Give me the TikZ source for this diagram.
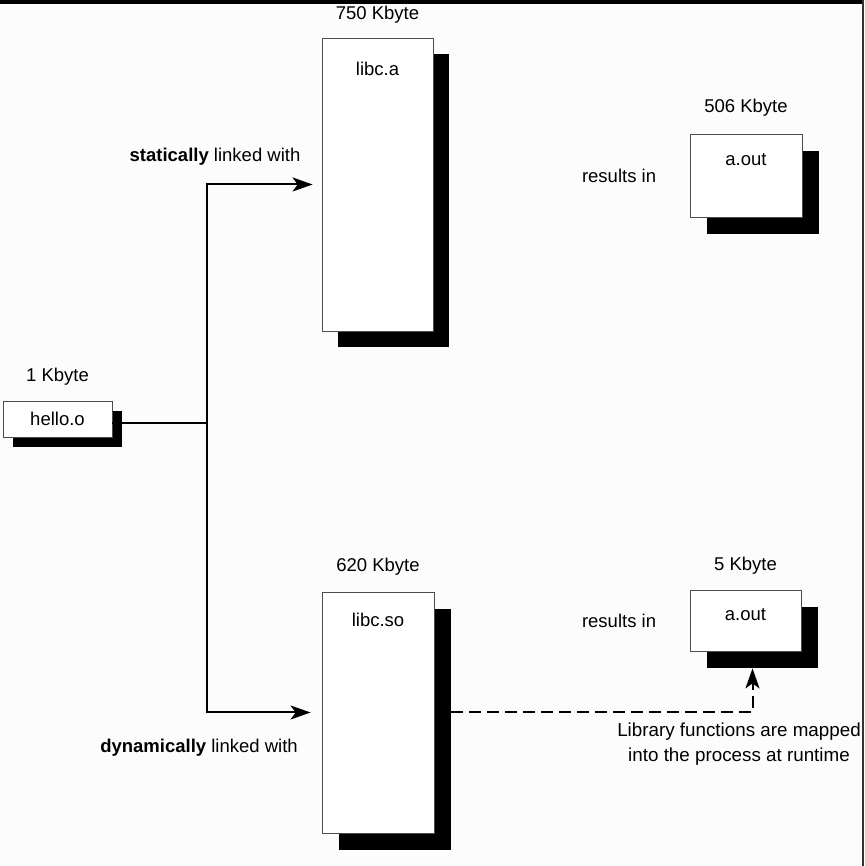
\documentclass[tikz,border=0pt]{standalone}
\usepackage{fontspec}
\setmainfont{Liberation Sans}
\usetikzlibrary{positioning,shadows,arrows.meta}
\tikzset{
  filebox/.style={draw=black!70,fill=white,line width=0.8pt,inner sep=0pt},
  blackshadow/.style={drop shadow={shadow xshift=#1,shadow yshift=-#1,opacity=1,fill=black}},
  blackshadow/.default=17pt,
  link/.style={line width=2pt,-{Stealth[length=20pt,width=14pt,inset=5pt]}}
}
\begin{document}
\begin{tikzpicture}[x=1pt,y=1pt,font=\fontsize{18.5}{25}\selectfont]
\fill[black!1] (0,0) rectangle (864,866);
\useasboundingbox (0,0) rectangle (864,866);
\fill[black] (0,862) rectangle (864,866);
\fill[black!80] (862,0) rectangle (864,866);
\node[filebox,blackshadow=10pt,minimum width=109pt,minimum height=36pt] (hello) at (57.5,447) {hello.o};
\node[above=12pt of hello] (hellosize) {1 Kbyte};
\node[filebox,blackshadow=16pt,minimum width=111pt,minimum height=293pt] (libca) at (377.5,681.5) {};
\node (libcaname) at ([yshift=-31pt]libca.north) {libc.a};
\node[above=11pt of libca] (libcasize) {750 Kbyte};
\node[filebox,blackshadow,minimum width=112pt,minimum height=83pt] (aoutst) at (746,690.5) {};
\node (aoutstname) at ([yshift=-26pt]aoutst.north) {a.out};
\node[above=14pt of aoutst] (aoutstsize) {506 Kbyte};
\node[left=30pt of aoutst] (resst) {results in};
\node[filebox,blackshadow,minimum width=112pt,minimum height=241pt] (libcso) at (378,153.5) {};
\node (libcsoname) at ([yshift=-28pt]libcso.north) {libc.so};
\node[above=13pt of libcso] (libcsosize) {620 Kbyte};
\node[filebox,blackshadow,minimum width=111pt,minimum height=61pt] (aoutdyn) at (745.5,245.5) {};
\node (aoutdynname) at ([yshift=-25pt]aoutdyn.north) {a.out};
\node[above=12pt of aoutdyn] (aoutdynsize) {5 Kbyte};
\node[left=30pt of aoutdyn] (resdyn) {results in};
\coordinate (split) at (207,443);
\draw[line width=2pt] (hello.east |- split) -- (split);
\draw[link] (split) |- ([xshift=-9pt]libca.west);
\draw[link] (split) |- ([xshift=-11pt]libcso.west);
\node (static) at (215,709) {\textbf{statically} linked with};
\node (dynamic) at (199,118) {\textbf{dynamically} linked with};
\draw[link,dashed,dash pattern=on 12pt off 6pt] ([xshift=17pt]libcso.east) -| ([xshift=7pt,yshift=-17pt]aoutdyn.south);
\node[align=center,font=\fontsize{18.8}{25}\selectfont] (mapped) at (739,122) {Library functions are mapped\\into the process at runtime};
\end{tikzpicture}
\end{document}
